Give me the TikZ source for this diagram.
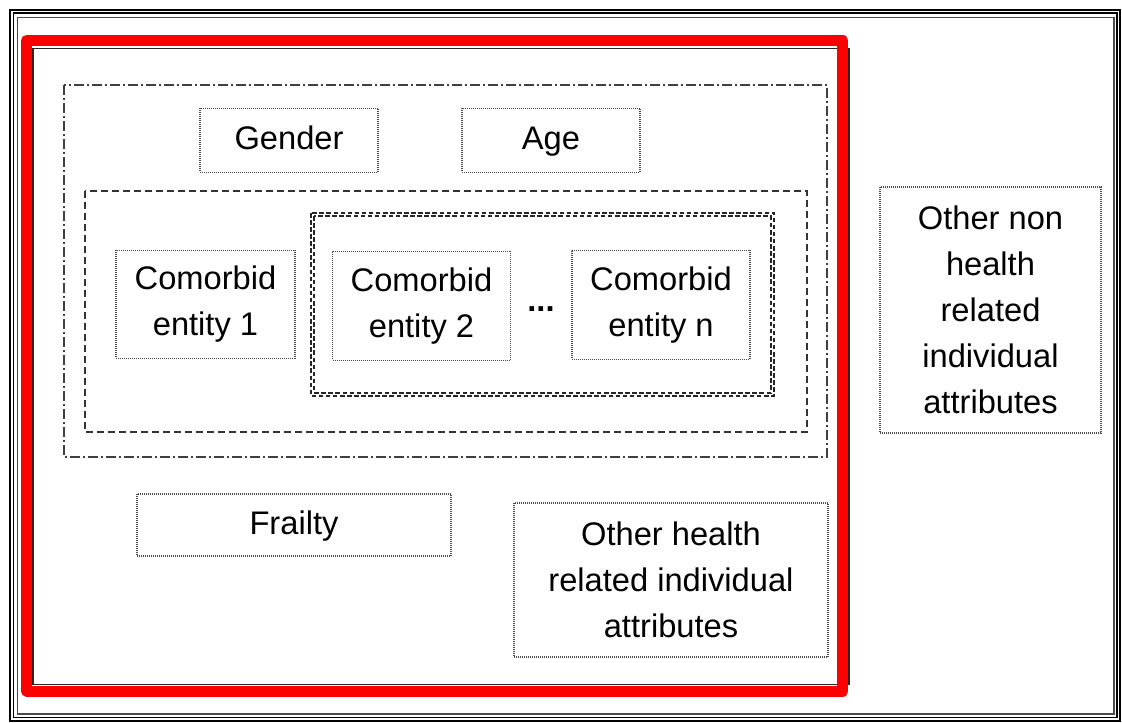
\documentclass[tikz,border=0pt]{standalone}
\usepackage{fontspec}
\setmainfont{Liberation Sans}
\newcommand\diagfont{\fontsize{24.5pt}{34.5pt}\selectfont}
\tikzset{
  % one unit = one pixel of a 1122 x 723 canvas, y pointing down
  px/.style 2 args={minimum width=#1*0.75pt, minimum height=#2*0.75pt},
  attrbox/.style={draw=black!70, line width=0.8pt, dash pattern=on 0.75pt off 0.75pt,
                  inner sep=0pt, align=center, font=\diagfont, text=black},
  dashdotframe/.style={draw=black!75, line width=1.1pt,
                  dash pattern=on 7.5pt off 2.25pt on 1.5pt off 2.25pt},
  dashframe/.style={draw=black!80, line width=1.1pt, dash pattern=on 5.25pt off 3pt},
  fineframe/.style={draw=black!85, line width=1.2pt, dash pattern=on 3.4pt off 1.9pt},
}
\begin{document}
\begin{tikzpicture}[x=0.75pt,y=-0.75pt]
\useasboundingbox (0,0) rectangle (1122,723);

% page border: thick, medium and thin lines
\draw[black, line width=1.9pt] (10,10) rectangle (1119.8,720.8);
\draw[black, line width=1.2pt] (13.3,13.3) rectangle (1117,717.6);
\draw[black!70, line width=0.9pt] (17.8,17.8) rectangle (1114,714);

% individual frame with red highlight
\draw[black!85, line width=1.1pt] (33,48.5) rectangle (849,684.5);
\draw[red, line width=8.25pt, line join=round] (26.5,40.5) rectangle (842.8,691);

% grouping frames
\draw[dashdotframe] (64,85) rectangle (827,457);
\draw[dashframe] (85,191) rectangle (807,432);
\draw[fineframe] (311,213) rectangle (774,396);
\draw[fineframe] (314.2,216.2) rectangle (770.8,392.8);

% attribute boxes
\node[attrbox, px={178}{64}]  (gender)  at (289,140.3) {Gender\strut};
\node[attrbox, px={178}{64}]  (age)     at (551,140.3) {Age\strut};
\node[attrbox, px={179}{108}] (ent1)    at (205.5,304.5) {Comorbid\\entity 1};
\node[attrbox, px={178}{109}] (ent2)    at (421.5,306) {Comorbid\\entity 2};
\node[attrbox, px={178}{109}] (entn)    at (661,305) {Comorbid\\entity n};
\node[font=\diagfont\bfseries, inner sep=0pt] (dots) at (541,309) {...};
\node[attrbox, px={314}{62}]  (frailty) at (294,525) {Frailty\strut};
\node[attrbox, px={314}{154}] (health)  at (671,580) {Other health\\related individual\\attributes};
\node[attrbox, px={221}{246}] (nonhealth) at (990.5,310) {Other non\\health\\related\\individual\\attributes};
\end{tikzpicture}
\end{document}
